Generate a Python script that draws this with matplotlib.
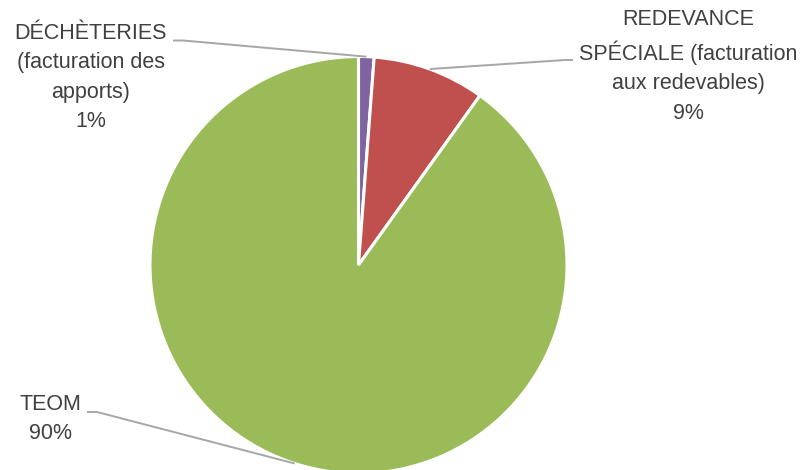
import numpy as np
import matplotlib
matplotlib.use("Agg")
import matplotlib.pyplot as plt

# Data
categories = ["DÉCHÈTERIES\n(facturation des\napports)",
              "REDEVANCE\nSPÉCIALE (facturation\naux redevables)",
              "TEOM"]
values = [1.2, 8.7, 90.1]
pct_labels = ["1%", "9%", "90%"]
colors = ["#8064A2", "#C0504D", "#9BBB59"]

W, H = 807, 470
fig = plt.figure(figsize=(W / 100, H / 100), dpi=100)
ax = fig.add_axes([0, 0, 1, 1])
ax.set_xlim(0, W)
ax.set_ylim(0, H)
ax.set_aspect("equal")
ax.axis("off")

cx, cy_px, R = 358.5, 265, 208.5
cy = H - cy_px

wedges, _ = ax.pie(values, colors=colors, startangle=90, counterclock=False,
                   center=(cx, cy), radius=R,
                   wedgeprops=dict(edgecolor="white", linewidth=2.2))
ax.set_xlim(0, W)
ax.set_ylim(0, H)

txt_color = "#404040"
font = dict(family=["Liberation Sans", "DejaVu Sans"], fontsize=15.5, color=txt_color)

# label placements (pixel coords: text center x, text center y, line start x, y, elbow x)
label_pos = [
    dict(tx=91, ty=77.5, lx=173, ly=40.5, ex=183),
    dict(tx=688, ty=66.5, lx=573, ly=60, ex=565),
    dict(tx=50, ty=419, lx=87, ly=412, ex=97),
]

cum = 0.0
total = sum(values)
for v, cat, pct, lp in zip(values, categories, pct_labels, label_pos):
    mid = (cum + v / 2) / total * 360.0
    cum += v
    ang = np.deg2rad(mid)
    px = cx + R * np.sin(ang)
    py = cy + R * np.cos(ang)
    ax.plot([lp["lx"], lp["ex"], px], [H - lp["ly"], H - lp["ly"], py],
            color="#A6A6A6", lw=1.4, solid_capstyle="butt", zorder=1)
    ax.text(lp["tx"], H - lp["ty"], cat + "\n" + pct, ha="center", va="center",
            linespacing=1.52, **font)

fig.savefig("out.png", dpi=100)
